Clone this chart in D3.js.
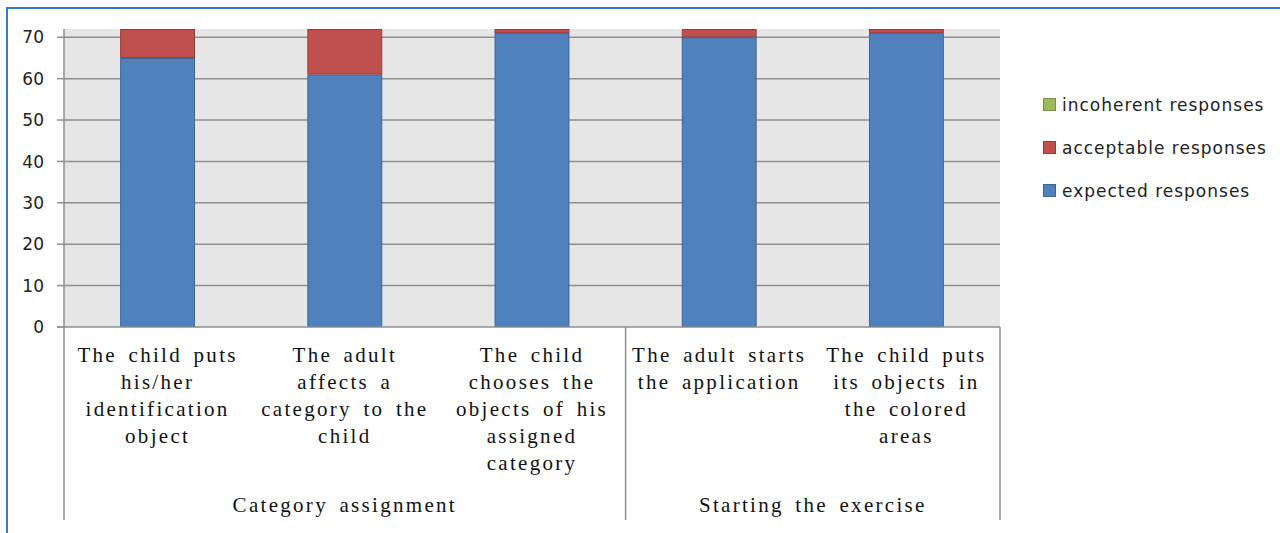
<!DOCTYPE html>
<html>
<head>
<meta charset="utf-8">
<script src="https://cdn.jsdelivr.net/npm/d3@7"></script>
<style>
  body { margin: 0; background: #fff; }
  svg { display: block; }
  .ytick text { font-family: "DejaVu Sans", sans-serif; font-size: 17px; fill: #222; }
  .cat { font-family: "Liberation Serif", serif; font-size: 21px; fill: #111; letter-spacing: 2.3px; word-spacing: 4px; }
  .legend text { font-family: "DejaVu Sans", sans-serif; font-size: 17px; fill: #222; letter-spacing: 1px; }
</style>
</head>
<body>
<svg width="1280" height="533"></svg>
<script>
const categories = [
  ["The child puts", "his/her", "identification", "object"],
  ["The adult", "affects a", "category to the", "child"],
  ["The child", "chooses the", "objects of his", "assigned", "category"],
  ["The adult starts", "the application"],
  ["The child puts", "its objects in", "the colored", "areas"]
];
const groups = ["Category assignment", "Starting the exercise"];
const groupSizes = [3, 2];

const expected = [65, 61, 71, 70, 71];
const acceptable = [7, 11, 1, 2, 1];
const incoherent = [0, 0, 0, 0, 0];

const seriesNames = ["expected responses", "acceptable responses", "incoherent responses"];
const seriesColors = ["#4f81bd", "#c0504d", "#9bbb59"];
const seriesStroke = ["#3a6596", "#943c3a", "#76923c"];
const yTicks = [0, 10, 20, 30, 40, 50, 60, 70];

const svg = d3.select('svg');

// outer frame (blue selection border)
svg.append('path')
    .attr('d', 'M7,533 V8 H1280')
    .attr('fill', 'none')
    .attr('stroke', '#2a7dd0')
    .attr('stroke-width', 2);

const plotLeft = 64, plotRight = 1000, plotTop = 29, plotBottom = 327, axisBottom = 520;

const x = d3.scaleBand()
    .domain(d3.range(categories.length))
    .range([plotLeft, plotRight])
    .paddingInner(0.6)
    .paddingOuter(0.3);

const y = d3.scaleLinear().domain([0, 72]).range([plotBottom, plotTop]);

// plot background
svg.append('rect')
    .attr('x', plotLeft).attr('y', plotTop)
    .attr('width', plotRight - plotLeft).attr('height', plotBottom - plotTop)
    .attr('fill', '#e6e6e6');

// gridlines
svg.append('g')
  .selectAll('line')
  .data(yTicks.filter(t => t > 0))
  .join('line')
    .attr('x1', plotLeft).attr('x2', plotRight)
    .attr('y1', d => y(d)).attr('y2', d => y(d))
    .attr('stroke', '#8f8f8f')
    .attr('stroke-width', 1.5);

// y axis ticks + labels
const yAxis = svg.append('g').attr('class', 'ytick');
yAxis.selectAll('line')
  .data(yTicks)
  .join('line')
    .attr('x1', plotLeft - 7).attr('x2', plotLeft)
    .attr('y1', d => y(d)).attr('y2', d => y(d))
    .attr('stroke', '#8f8f8f')
    .attr('stroke-width', 1.5);
yAxis.selectAll('text')
  .data(yTicks)
  .join('text')
    .attr('x', 44)
    .attr('y', d => y(d))
    .attr('dy', '0.36em')
    .attr('text-anchor', 'end')
    .text(d => d);

// stacked bars
const rows = categories.map((c, i) => ({ i, s0: expected[i], s1: acceptable[i], s2: incoherent[i] }));
const stacked = d3.stack().keys(['s0', 's1', 's2'])(rows);

svg.append('g')
  .selectAll('g')
  .data(stacked)
  .join('g')
    .attr('fill', (_, k) => seriesColors[k])
    .attr('stroke', (_, k) => seriesStroke[k])
  .selectAll('rect')
  .data(d => d.filter(p => p[1] > p[0]))
  .join('rect')
    .attr('x', d => x(d.data.i) + 0.5)
    .attr('y', d => y(d[1]) + 0.5)
    .attr('width', x.bandwidth() - 1)
    .attr('height', d => y(d[0]) - y(d[1]) - 1)
    .attr('stroke-width', 1);

// axis lines and group separators
const axisColor = '#8f8f8f';
svg.append('line')
    .attr('x1', plotLeft - 7).attr('x2', plotRight)
    .attr('y1', plotBottom).attr('y2', plotBottom)
    .attr('stroke', axisColor).attr('stroke-width', 1.5);
svg.append('line')
    .attr('x1', plotLeft).attr('x2', plotLeft)
    .attr('y1', plotTop).attr('y2', axisBottom)
    .attr('stroke', axisColor).attr('stroke-width', 1.5);

const step = x.step();
let start = 0;
const groupBounds = groupSizes.map(n => {
  const b = { x0: plotLeft + start * step, x1: plotLeft + (start + n) * step };
  start += n;
  return b;
});
svg.append('g')
  .selectAll('line')
  .data(groupBounds)
  .join('line')
    .attr('x1', d => d.x1).attr('x2', d => d.x1)
    .attr('y1', plotBottom).attr('y2', axisBottom)
    .attr('stroke', axisColor).attr('stroke-width', 1.5);

// category labels
svg.append('g')
  .selectAll('text')
  .data(categories)
  .join('text')
    .attr('class', 'cat')
    .attr('text-anchor', 'middle')
    .each(function (lines, i) {
      d3.select(this).selectAll('tspan')
        .data(lines)
        .join('tspan')
          .attr('x', x(i) + x.bandwidth() / 2)
          .attr('y', (_, j) => 362 + j * 27)
          .text(t => t);
    });

svg.append('g')
  .selectAll('text')
  .data(groups)
  .join('text')
    .attr('class', 'cat')
    .attr('text-anchor', 'middle')
    .attr('x', (_, g) => (groupBounds[g].x0 + groupBounds[g].x1) / 2)
    .attr('y', 512)
    .text(d => d);

// legend (reverse order as in Excel)
const legendOrder = [2, 1, 0];
const legend = svg.append('g').attr('class', 'legend');
const items = legend.selectAll('g')
  .data(legendOrder)
  .join('g')
    .attr('transform', (_, r) => `translate(1043, ${105 + r * 43})`);
items.append('rect')
    .attr('x', 0.5).attr('y', -6.5)
    .attr('width', 12).attr('height', 12)
    .attr('fill', k => seriesColors[k])
    .attr('stroke', k => seriesStroke[k]);
items.append('text')
    .attr('x', 19)
    .attr('dy', '0.36em')
    .text(k => seriesNames[k]);
</script>
</body>
</html>
